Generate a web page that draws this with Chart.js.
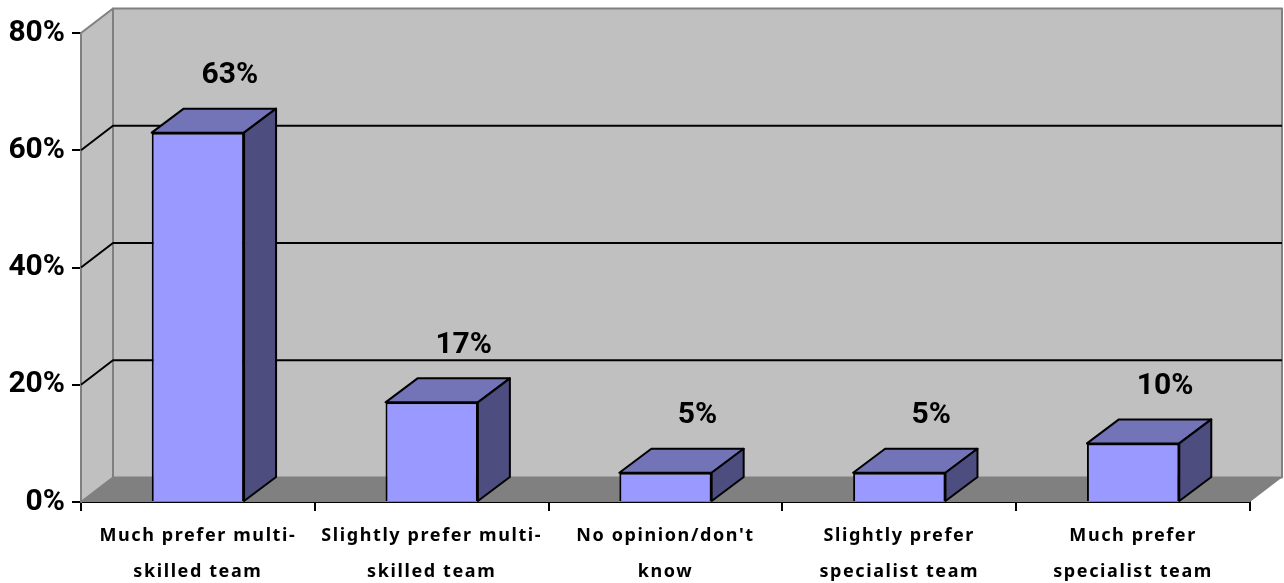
<!DOCTYPE html>
<html>
<head>
<meta charset="utf-8">
<title>Team preference</title>
<script src="https://cdn.jsdelivr.net/npm/chart.js@4"></script>
<style>
  html, body { margin: 0; padding: 0; background: #fff; overflow: hidden; }
  canvas { display: block; }
</style>
</head>
<body>
<canvas id="chart" width="1284" height="583"></canvas>
<script>
const categories = [
  ['Much prefer multi-', 'skilled team'],
  ['Slightly prefer multi-', 'skilled team'],
  ['No opinion/don\'t', 'know'],
  ['Slightly prefer', 'specialist team'],
  ['Much prefer', 'specialist team']
];
const shares = [63, 17, 5, 5, 10];

const VALUE_FONT = 'Roboto, sans-serif';
const LABEL_FONT = '"Noto Sans", sans-serif';

// Depth of the fake 3D box, in pixels
const DEPTH_X = 32;
const DEPTH_Y = 24.5;
const BAR_DEPTH_Y = 24;

function fillPoly(ctx, points, fill, stroke, lineWidth) {
  ctx.beginPath();
  ctx.moveTo(points[0][0], points[0][1]);
  points.slice(1).forEach(p => ctx.lineTo(p[0], p[1]));
  ctx.closePath();
  ctx.fillStyle = fill;
  ctx.fill();
  if (stroke) {
    ctx.strokeStyle = stroke;
    ctx.lineWidth = lineWidth;
    ctx.lineJoin = 'round';
    ctx.stroke();
  }
}

// Back wall, side wall, floor and the gridlines that run across them
const roomPlugin = {
  id: 'room',
  beforeDatasetsDraw(chart) {
    const { ctx, chartArea: { left, right, top, bottom }, scales: { y } } = chart;
    const dx = DEPTH_X, dy = DEPTH_Y;
    ctx.save();
    fillPoly(ctx, [[left, top], [left + dx, top - dy], [left + dx, bottom - dy], [left, bottom]], '#c0c0c0', '#808080', 2);
    fillPoly(ctx, [[left + dx, top - dy], [right + dx, top - dy], [right + dx, bottom - dy], [left + dx, bottom - dy]], '#c0c0c0', '#808080', 2);
    fillPoly(ctx, [[left, bottom], [left + dx, bottom - dy], [right + dx, bottom - dy], [right, bottom]], '#808080');

    ctx.strokeStyle = '#000';
    ctx.lineWidth = 2;
    y.ticks.forEach(tick => {
      if (tick.value === y.min || tick.value === y.max) return;
      const py = y.getPixelForValue(tick.value);
      ctx.beginPath();
      ctx.moveTo(left, py);
      ctx.lineTo(left + dx, py - dy);
      ctx.lineTo(right + dx, py - dy);
      ctx.stroke();
    });
    ctx.restore();
  },
  afterDatasetsDraw(chart) {
    const { ctx } = chart;
    const dx = DEPTH_X, dy = BAR_DEPTH_Y;
    ctx.save();
    chart.getDatasetMeta(0).data.forEach((bar, i) => {
      const l = bar.x - bar.width / 2, r = bar.x + bar.width / 2;
      const t = bar.y, b = bar.base;
      // top and side faces of the column
      fillPoly(ctx, [[l, t], [l + dx, t - dy], [r + dx, t - dy], [r, t]], '#7373b8', '#000', 2);
      fillPoly(ctx, [[r, t], [r + dx, t - dy], [r + dx, b - dy], [r, b]], '#4d4d80', '#000', 2);

      ctx.fillStyle = '#000';
      ctx.font = 'bold 30px ' + VALUE_FONT;
      ctx.textAlign = 'center';
      ctx.textBaseline = 'middle';
      ctx.fillText(shares[i] + '%', bar.x + dx, t - 57);
    });
    ctx.restore();
    // category labels are spaced out; their axis layer is drawn right after this hook
    ctx.letterSpacing = '1.6px';
  },
  afterDraw(chart) {
    chart.ctx.letterSpacing = '0px';
  }
};

new Chart(document.getElementById('chart'), {
  type: 'bar',
  data: {
    labels: categories,
    datasets: [{
      data: shares,
      backgroundColor: '#9999ff',
      borderColor: '#000',
      borderWidth: 2,
      barPercentage: 0.395,
      categoryPercentage: 1
    }]
  },
  plugins: [roomPlugin],
  options: {
    responsive: false,
    animation: false,
    layout: { padding: { top: 33, right: 34, left: 0, bottom: 0 } },
    plugins: { legend: { display: false }, tooltip: { enabled: false } },
    scales: {
      x: {
        afterFit(scale) { scale.height = 81; },
        border: { color: '#000', width: 2 },
        grid: { drawOnChartArea: false, color: '#000', lineWidth: 2, tickLength: 9 },
        ticks: {
          z: 1,
          color: '#000',
          maxRotation: 0,
          autoSkip: false,
          padding: 7,
          font: { family: LABEL_FONT, size: 18, weight: 'bold', lineHeight: 2 }
        }
      },
      y: {
        min: 0,
        max: 80,
        afterFit(scale) { scale.width = 81; },
        border: { color: '#000', width: 2 },
        grid: { drawOnChartArea: false, color: '#000', lineWidth: 2, tickLength: 9 },
        ticks: {
          stepSize: 20,
          color: '#000',
          padding: 7,
          font: { family: VALUE_FONT, size: 30, weight: 'bold' },
          callback: value => value + '%'
        }
      }
    }
  }
});
</script>
</body>
</html>
